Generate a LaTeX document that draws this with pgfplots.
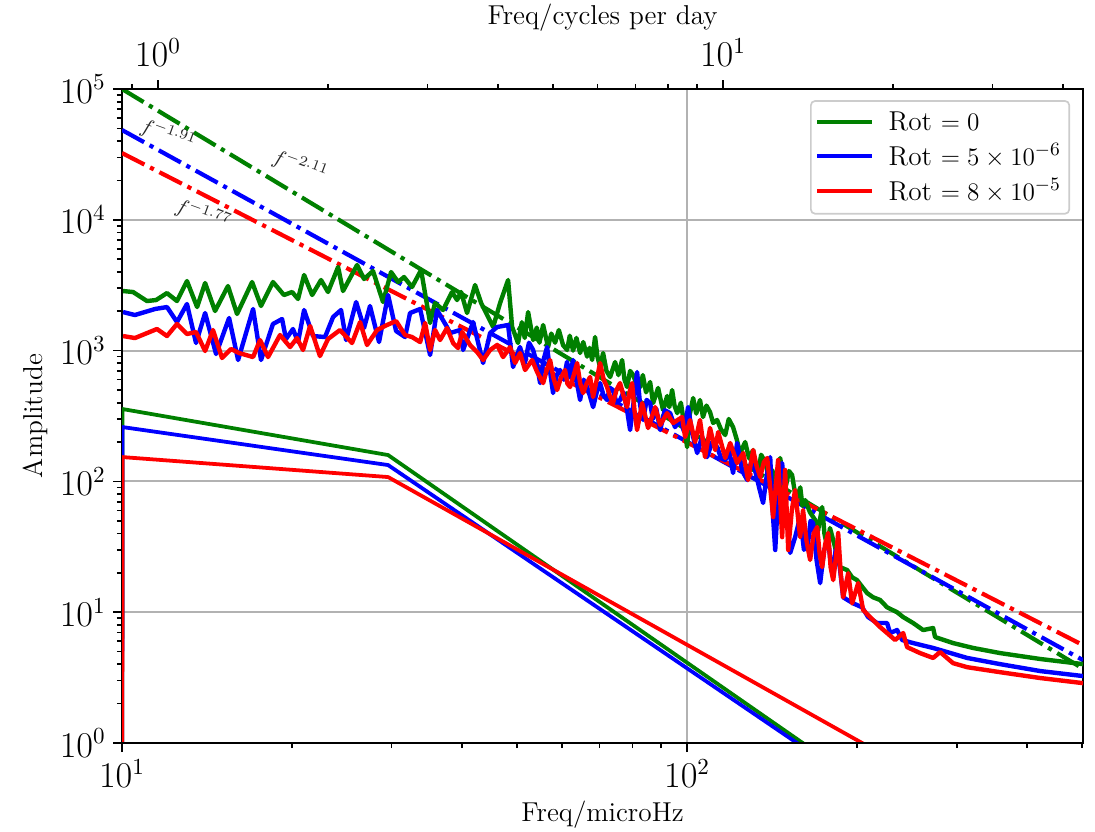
\documentclass[border=0pt]{standalone}
\usepackage{pgfplots}
\pgfplotsset{compat=1.18}
\definecolor{mplgreen}{RGB}{0,128,0}
\definecolor{mplblue}{RGB}{0,0,255}
\definecolor{mplred}{RGB}{255,0,0}
\begin{document}
\begin{tikzpicture}
\begin{axis}[
  name=main,
  scale only axis, width=457.6pt, height=311.4pt,
  xmode=log, ymode=log,
  xmin=10, xmax=502, ymin=1, ymax=1e5,
  xtick={10,100}, minor xtick={20,30,40,50,60,70,80,90,200,300,400,500},
  ytick={1,10,100,1000,10000,100000},
  xtick pos=left, ytick pos=left,
  tick align=outside,
  major tick length=4.3pt, minor tick length=2.4pt,
  every tick/.style={black, line width=0.8pt},
  tick label style={font=\fontsize{16}{19}\selectfont},
  xmajorgrids, ymajorgrids,
  major grid style={black!30, line width=1pt},
  axis line style={line width=1pt},
  xlabel={Freq/microHz}, ylabel={Amplitude},
  label style={font=\fontsize{13}{15}\selectfont},
  xlabel style={at={(axis description cs:0.5,-0.110)}, anchor=center},
  ylabel style={at={(axis description cs:-0.0905,0.5)}, anchor=center},
  legend style={at={(axis description cs:0.9865,0.983)}, anchor=north east,
    draw=black!20, line width=0.8pt, rounded corners=2pt, fill=white,
    font=\fontsize{13}{15}\selectfont, inner xsep=2pt, inner ysep=3pt, row sep=1pt,
    cells={anchor=west}, /tikz/every odd column/.style={column sep=5pt}},
  legend image code/.code={\draw[#1, line width=2pt] (0pt,0pt) -- (26pt,0pt);},
  every axis plot/.append style={line join=round},
]
% dash-dot fits
\addplot[forget plot, mplgreen, line width=2pt, dash pattern=on 12pt off 3pt on 2pt off 3pt] coordinates {(10,1e5)(502,3.7)};
\addplot[forget plot, mplblue, line width=2pt, dash pattern=on 12pt off 3pt on 2pt off 3pt] coordinates {(10,48600)(502,4.3)};
\addplot[forget plot, mplred, line width=2pt, dash pattern=on 12pt off 3pt on 2pt off 3pt] coordinates {(10,32400)(502,5.6)};
% models
\addplot[forget plot, mplgreen, line width=1.8pt] coordinates {(10,0.001)(10.02,357.7)(29.57,159.1)(200,0.514)};
\addplot[forget plot, mplblue, line width=1.8pt] coordinates {(10,0.001)(10.02,260.4)(29.57,133.4)(200,0.487)};
\addplot[forget plot, mplred, line width=1.8pt] coordinates {(10,0.001)(10.02,153.5)(29.57,108)(300,0.393)};
% spectra
\addplot[mplgreen, line width=2.1pt] coordinates {
(10.04,2855)(10.46,2806)(11.07,2394)(11.49,2437)(12.01,2755)(12.51,2394)(13.03,3405)(13.58,2154)(14.03,3288)(14.61,2008)(15.40,3118)(15.98,1906)(16.99,3345)(17.62,2193)(18.50,3345)(19.35,2662)(20.0,2806)(20.49,2481)(21.00,3785)(21.70,2662)(22.50,3466)(23.15,2806)(24.12,4355)(24.61,2855)(26.06,4513)(26.81,3528)(27.81,4061)(28.97,2352)(29.93,3988)(30.80,3345)(31.56,3653)(32.60,3063)(33.83,4133)(35.09,1627)(35.81,2312)(37.00,2044)(38.38,2806)(39.17,2437)(39.81,2806)(40.80,1939)(42.15,3174)(43.20,2312)(45.37,1515)(46.67,2312)(48.22,3466)(49.02,1515)(50.21,1144)(51.0,1650)(51.6,1250)(52.32,1972)(53.40,1205)(54.2,1500)(54.8,1150)(55.62,1570)(56.75,1065)(57.5,1350)(58.40,1150)(59.3,1437)(60.33,1100)(61.33,1011)(62.0,1300)(62.84,1000)(63.7,1250)(64.66,959)(65.5,1163)(66.53,900)(67.2,1050)(67.91,847.5)(68.74,1270)(69.4,900)(70.15,749)(71.02,959)(72.0,700)(73.08,628)(74.58,818)(75.6,650)(76.74,847.5)(77.5,600)(78.31,527)(79.3,700)(80.25,651)(81.3,560)(82.59,527)(83.5,650)(84.6,480)(86.01,575)(87.07,397.5)(88.87,518)(89.8,420)(90.69,351.4)(92.2,450)(93.0,370)(94.08,499.7)(95.0,380)(96.06,333)(97.5,400)(98.5,300)(100,183)(101.0,320)(102.5,434)(103.8,330)(105.4,419.1)(106.7,310.5)(108.2,380)(109.8,339)(111.2,280)(113.0,294.7)(114.8,250)(116.8,226.3)(118.5,300)(120.6,260)(122.4,210)(124.1,164.8)(126.7,200)(128.7,150)(130.9,173.8)(133.0,102.5)(135.2,160)(137.5,140.6)(139.3,110)(141.4,122.2)(143.6,100)(146.1,151)(148.0,110)(149.7,93.8)(151.5,120)(153.4,111.9)(155.0,85)(156.6,75.9)(158.6,90)(160.0,65)(161.8,72.0)(165,58)(168.5,50.7)(170.5,42)(173.4,63.7)(175,40)(177.0,31.5)(179,44)(181.4,35.6)(184,28)(186.6,22.1)(192.0,21.0)(195.9,18.5)(199.9,17.6)(204.9,15.3)(208.3,14.0)(213.4,13.0)(219.6,12.4)(225.9,10.9)(235.3,10.0)(241.2,9.18)(251.2,8.27)(261.6,7.31)(272.5,7.57)(274.7,6.46)(295.6,5.81)(320.8,5.33)(358.1,4.87)(421.6,4.39)(502,4.01)};
\addlegendentry{Rot $=0$}
\addplot[mplblue, line width=2.1pt] coordinates {
(10.04,1972)(10.54,1872)(11.44,2081)(12.01,2154)(12.51,1654)(13.03,2272)(13.52,1144)(14.03,1939)(14.67,942)(15.47,1776)(16.05,847.5)(17.06,2081)(17.62,847.5)(18.50,1598)(19.20,1745)(19.51,1227)(20.07,1463)(20.49,1163)(21.00,2044)(21.78,1293)(22.87,1270)(23.63,1806)(24.41,2044)(24.92,1205)(25.96,2352)(26.81,1489)(27.47,2193)(28.50,1163)(29.57,2662)(30.55,1412)(31.69,1270)(32.34,1939)(33.70,2081)(35.09,925.5)(36.10,2044)(37.60,1515)(38.07,1363)(39.65,1437)(40.14,1011)(41.81,1654)(43.55,804)(44.81,1363)(46.11,1515)(48.22,1570)(49.20,749)(50.62,1065)(51.6,800)(52.5,1150)(53.40,1011)(54.2,800)(54.94,565)(55.7,850)(56.53,1065)(57.2,700)(57.92,474)(58.8,650)(59.60,710.8)(60.5,600)(61.3,820)(62.0,650)(62.84,847.5)(63.7,600)(64.66,419.1)(65.6,600)(66.53,527)(67.3,450)(68.18,370)(69.2,480)(70.15,565)(71.2,450)(72.19,419.1)(73.0,520)(73.96,499.7)(75.0,400)(76.10,419.1)(77.2,480)(78.31,351.4)(79.28,247.1)(80.4,400)(81.57,686)(82.6,380)(83.60,294.7)(84.8,420)(86.01,397.5)(87.0,300)(88.2,360)(89.61,247.1)(91.3,350)(93.31,333)(95.2,260)(97.2,294.7)(98.8,240)(100.4,370)(102.2,230)(104.2,164.8)(106.3,220)(108.5,153.5)(110.7,200)(113.0,183)(114.9,150)(116.8,145.7)(118.7,170)(120.6,115.9)(122.6,196.6)(125.2,120)(127.8,102.5)(129.8,140)(131.9,122.2)(134.1,90)(136.3,68.4)(138.3,110)(140.3,153.5)(141.7,60)(143.2,29.9)(145.2,90)(147.3,138.2)(149.7,60)(152.2,28.4)(155.3,37.5)(158.5,53.4)(161.0,30)(163.7,33.8)(165.4,50)(167.1,48.1)(169.5,25)(172.0,16.7)(174.8,30)(177.7,35.6)(179.5,24)(181.4,21.0)(183.2,30)(185.1,28.4)(188.9,13.0)(196.7,11.7)(204.1,10.9)(209.1,9.18)(216.9,8.27)(225.9,8.27)(228.7,6.93)(235.3,7.31)(240.2,6.13)(251.2,5.81)(272.5,5.33)(288.5,4.96)(313.1,4.47)(358.1,4.01)(421.6,3.55)(502,3.25)};
\addlegendentry{Rot $=5\times10^{-6}$}
\addplot[mplred, line width=2.1pt] coordinates {
(10.04,1293)(10.54,1248)(11.53,1463)(12.01,1293)(12.51,1598)(13.03,1340)(13.52,1387)(14.03,993)(14.49,1437)(15.03,878)(15.59,1029)(16.11,959)(17.06,893)(17.55,1205)(18.13,893)(19.04,1316)(19.84,1065)(20.40,1248)(20.91,1011)(21.52,1543)(22.40,909)(23.15,1227)(24.31,1437)(25.53,1144)(26.38,1654)(27.14,1104)(28.27,1437)(29.44,1570)(30.55,1684)(31.69,1316)(32.60,1270)(33.70,1163)(34.39,1627)(35.09,1011)(35.81,1437)(36.55,1205)(37.60,1489)(38.54,1144)(39.33,1047)(40.0,1387)(41.30,1104)(42.50,976)(43.55,847.5)(44.81,1011)(46.11,1104)(47.25,893)(48.62,1065)(49.61,804)(50.62,959)(51.68,710.8)(53.18,847.5)(54.28,686)(55.62,565)(56.4,700)(57.22,847.5)(58.0,620)(58.88,499.7)(59.8,620)(60.82,710.8)(61.4,560)(62.08,527)(63.0,650)(63.88,804)(64.7,560)(65.46,474)(66.4,560)(67.35,628)(68.18,441.6)(69.2,600)(70.15,804)(71.2,600)(72.19,527)(73.0,450)(73.96,397.5)(75.0,500)(76.10,565)(77.2,450)(78.31,370)(79.1,480)(79.93,565)(80.7,350)(81.57,247.1)(83.26,397.5)(85.31,256)(87.79,370)(89.61,269.8)(92.17,333)(94.46,279.5)(98.0,310.5)(99.2,218.4)(101.2,294.7)(103.3,200)(105.4,294.7)(107.6,153.5)(109.8,256)(112.1,173.8)(113.5,238.5)(116.8,151)(119.2,196.6)(122.6,138.2)(125.7,164.8)(128.2,102.5)(130.9,173.8)(132.8,130)(134.7,108)(136.7,140)(138.6,151)(140.3,90)(142.0,53.4)(144.9,145.7)(147.3,37.5)(149.1,122.2)(151.0,29.9)(153.2,60)(155.3,85.9)(158.5,37.5)(160.4,60.4)(162.7,35)(165.1,25.1)(167.5,40)(169.9,44.8)(171.6,28)(173.4,22.1)(175.5,33)(177.7,40.3)(179.5,22)(181.4,17.6)(183.2,25)(185.1,40.3)(187,20)(188.9,13.0)(192.8,19.9)(195.9,11.7)(200.8,16.7)(204.9,10.4)(213.4,8.71)(219.6,7.70)(225.9,6.93)(233.4,6.13)(241.2,6.93)(245.1,5.41)(258.4,4.87)(272.5,4.47)(280.4,4.96)(295.6,4.08)(313.1,3.80)(358.1,3.48)(421.6,3.14)(502,2.87)};
\addlegendentry{Rot $=8\times10^{-5}$}
\node[rotate=-20, font=\fontsize{10}{12}\selectfont, text=black!85] at (axis cs:12.06,44460) {$f^{-1.91}$};
\node[rotate=-20, font=\fontsize{10}{12}\selectfont, text=black!85] at (axis cs:20.65,25760) {$f^{-2.11}$};
\node[rotate=-20, font=\fontsize{10}{12}\selectfont, text=black!85] at (axis cs:13.91,10880) {$f^{-1.77}$};
\end{axis}
\begin{axis}[
  scale only axis, width=457.6pt, height=311.4pt,
  xmode=log, xmin=0.864, xmax=43.37, ymin=0, ymax=1,
  xtick={1,10}, minor xtick={0.9,2,3,4,5,6,7,8,9,20,30,40},
  hide y axis,
  xtick pos=right, xticklabel pos=right,
  tick align=outside,
  major tick length=4.3pt, minor tick length=2.4pt,
  every tick/.style={black, line width=0.8pt},
  tick label style={font=\fontsize{16}{19}\selectfont},
  xticklabel style={yshift=3pt},
  axis line style={line width=1pt},
  xlabel={Freq/cycles per day},
  xlabel style={font=\fontsize{13}{15}\selectfont, at={(axis description cs:0.5,1.1086)}, anchor=center},
]
\end{axis}
\pgfresetboundingbox
\path[use as bounding box] ([shift={(-58.1pt,-41.9pt)}]main.south west) rectangle ([shift={(5.7pt,42.4pt)}]main.north east);
\end{tikzpicture}
\end{document}
